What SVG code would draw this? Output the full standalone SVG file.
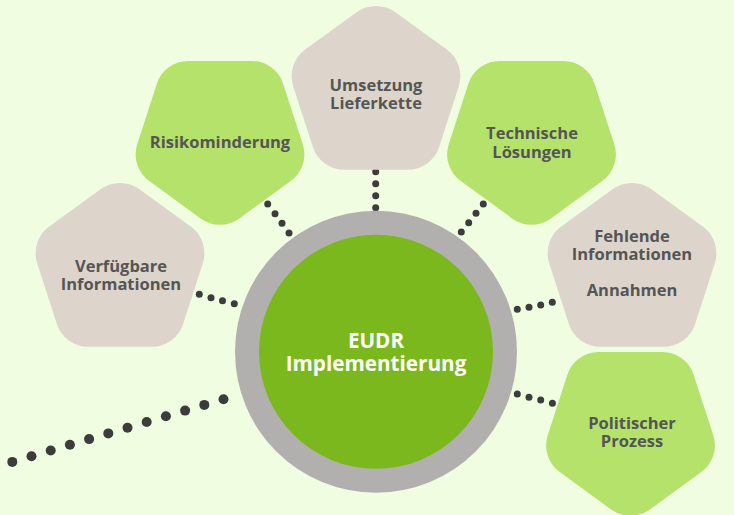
<svg xmlns="http://www.w3.org/2000/svg" width="734" height="515" viewBox="0 0 734 515">
<style>
.beige{fill:#ddd5cc;stroke:#ddd5cc;stroke-width:66;stroke-linejoin:round}
.green{fill:#b4e26b;stroke:#b4e26b;stroke-width:66;stroke-linejoin:round}
.lbl{font-family:"Open Sans","Noto Sans","DejaVu Sans",sans-serif;font-weight:bold;font-size:16.5px;fill:#555555;text-anchor:middle}
.ctr{font-family:"Open Sans","Noto Sans","DejaVu Sans",sans-serif;font-weight:bold;font-size:20.7px;fill:#ffffff;text-anchor:middle}
.dot{fill:#3c3c3c}
</style>
<defs>
<polygon id="pUp" points="0,-54 51.36,-16.69 31.74,43.69 -31.74,43.69 -51.36,-16.69"/>
<polygon id="pDown" points="0,54 51.36,16.69 31.74,-43.69 -31.74,-43.69 -51.36,16.69"/>
</defs>
<rect width="734" height="515" fill="#f0fde0"/>
<g id="connectors" class="dot">
<circle cx="199.3" cy="294.3" r="3.5"/><circle cx="211" cy="297.7" r="3.5"/><circle cx="222.5" cy="300.7" r="3.5"/><circle cx="234.3" cy="303.7" r="3.5"/>
<circle cx="267.7" cy="204" r="3.5"/><circle cx="275" cy="213.7" r="3.5"/><circle cx="282" cy="223.3" r="3.5"/><circle cx="289" cy="233" r="3.5"/>
<circle cx="375.7" cy="171.7" r="3.5"/><circle cx="375.7" cy="183.7" r="3.5"/><circle cx="375.7" cy="195.7" r="3.5"/><circle cx="375.7" cy="207.7" r="3.5"/>
<circle cx="483.3" cy="204" r="3.5"/><circle cx="476" cy="213.3" r="3.5"/><circle cx="468.7" cy="222.7" r="3.5"/><circle cx="461.3" cy="232" r="3.5"/>
<circle cx="517.3" cy="309.3" r="3.5"/><circle cx="529" cy="307.3" r="3.5"/><circle cx="540.7" cy="305" r="3.5"/><circle cx="552.3" cy="302.3" r="3.5"/>
<circle cx="517.3" cy="394" r="3.5"/><circle cx="529" cy="397.3" r="3.5"/><circle cx="540.7" cy="400" r="3.5"/><circle cx="552.4" cy="403.3" r="3.5"/>
<circle cx="223.5" cy="399.2" r="5"/><circle cx="204.3" cy="404.9" r="5"/><circle cx="185.1" cy="410.6" r="5"/><circle cx="165.9" cy="416.3" r="5"/><circle cx="146.7" cy="422" r="5"/><circle cx="127.5" cy="427.7" r="5"/><circle cx="108.3" cy="433.4" r="5"/><circle cx="89.1" cy="439.1" r="5"/><circle cx="69.9" cy="444.8" r="5"/><circle cx="50.7" cy="450.5" r="5"/><circle cx="31.5" cy="456.2" r="5"/><circle cx="12.3" cy="461.9" r="5"/>
</g>
<g id="node-verfuegbare">
<use href="#pUp" class="beige" transform="translate(120,270)"/>
<text class="lbl" x="121" y="272">Verfügbare</text>
<text class="lbl" x="121" y="290">Informationen</text>
</g>
<g id="node-risiko">
<use href="#pDown" class="green" transform="translate(220,137.7)"/>
<text class="lbl" x="220" y="147.5">Risikominderung</text>
</g>
<g id="node-umsetzung">
<use href="#pUp" class="beige" transform="translate(376,93)"/>
<text class="lbl" x="376" y="90.5">Umsetzung</text>
<text class="lbl" x="376" y="108.5">Lieferkette</text>
</g>
<g id="node-technische">
<use href="#pDown" class="green" transform="translate(531.5,137.7)"/>
<text class="lbl" x="532" y="139">Technische</text>
<text class="lbl" x="532" y="157.5">Lösungen</text>
</g>
<g id="node-fehlende">
<use href="#pUp" class="beige" transform="translate(632,270)"/>
<text class="lbl" x="632" y="242">Fehlende</text>
<text class="lbl" x="632" y="260">Informationen</text>
<text class="lbl" x="632" y="296">Annahmen</text>
</g>
<g id="node-politischer">
<use href="#pDown" class="green" transform="translate(630.5,428.7)"/>
<text class="lbl" x="632" y="428.5">Politischer</text>
<text class="lbl" x="632" y="446.5">Prozess</text>
</g>
<g id="node-center">
<circle cx="376" cy="351.8" r="141" fill="#b1b0ae"/>
<circle cx="376" cy="351.8" r="117" fill="#7bb81e"/>
<text class="ctr" x="376" y="348.3">EUDR</text>
<text class="ctr" x="376" y="371">Implementierung</text>
</g>
</svg>
